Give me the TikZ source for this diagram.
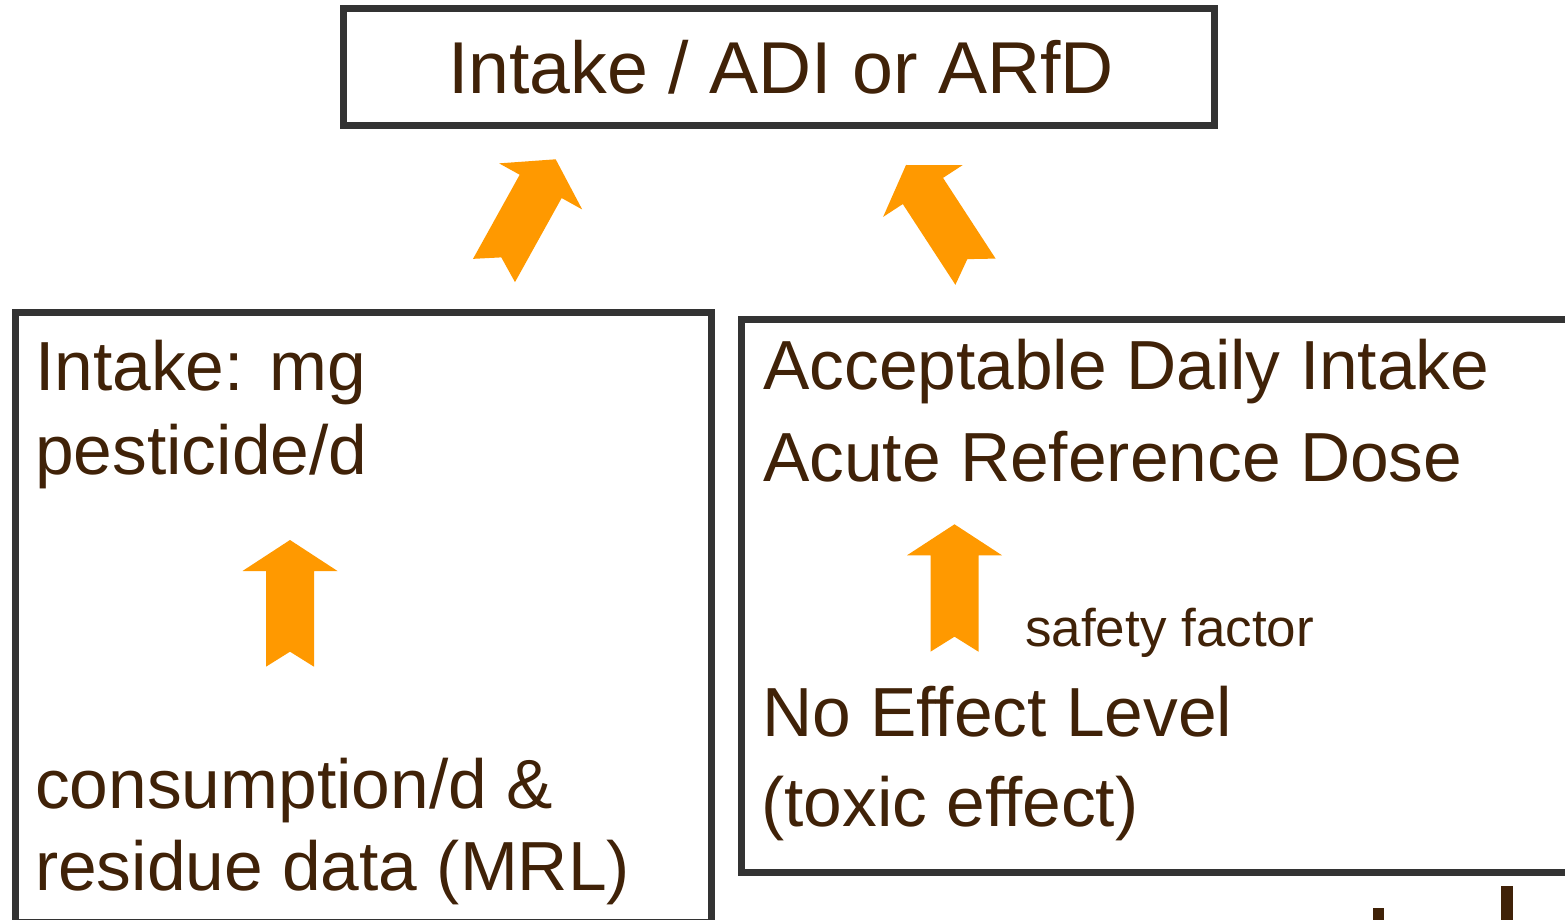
\documentclass[tikz,border=0pt]{standalone}
\usepackage{fontspec}
\setmainfont{Liberation Sans}
\usetikzlibrary{calc}
\usetikzlibrary{positioning}

\definecolor{txtbrown}{RGB}{64,34,8}
\definecolor{boxgray}{RGB}{51,51,51}
\definecolor{arroworange}{RGB}{255,153,0}

\tikzset{
  box/.style={draw=boxgray, line width=7pt, fill=none, inner sep=0pt},
  label/.style={text=txtbrown, anchor=base west, inner sep=0pt,
      font=\fontsize{69.5}{83}\selectfont},
  small label/.style={label, font=\fontsize{53}{64}\selectfont},
  orangearrow/.style={fill=arroworange, draw=none}
}

% block arrow with notched tail, from tail (#1) to tip (#2)
\newcommand{\blockarrow}[2]{%
  \coordinate (#2-h) at ($(#2)!31pt!(#1)$);
  \fill[orangearrow] (#2)
     -- ($(#2-h)!47.5pt!90:(#2)$) -- ($(#2-h)!24pt!90:(#2)$)
     -- ($(#1)!24pt!90:(#2)$) -- ($(#1)!15pt!(#2)$)
     -- ($(#1)!24pt!-90:(#2)$) -- ($(#2-h)!24pt!-90:(#2)$)
     -- ($(#2-h)!47.5pt!-90:(#2)$) -- cycle;}

\begin{document}
\begin{tikzpicture}[x=1pt,y=-1pt]
  \useasboundingbox (0,0) rectangle (1565,920);

  % boxes
  \node[box, minimum width=871pt, minimum height=117pt] (ratio) at (778.5,67.5) {};
  \node[text=txtbrown, font=\fontsize{73.5}{88}\selectfont, inner sep=0pt]
      (ratiotext) at (781,67) {Intake / ADI or ARfD};
  \node[box, minimum width=696pt, minimum height=610pt] (intakebox) at (363,617) {};
  \node[box, minimum width=829pt, minimum height=553pt] (adibox) at (1155.5,595.5) {};

  % left box texts
  \node[label] (intake1) at (35,390) {Intake: mg};
  \node[label] (intake2) at (35,474) {pesticide/d};
  \node[label] (cons1)   at (35,808) {consumption/d \&};
  \node[label] (cons2)   at (35,890) {residue data (MRL)};

  % right box texts
  \node[label] (adi)    at (763,389) {Acceptable Daily Intake};
  \node[label] (arfd)   at (763,481) {Acute Reference Dose};
  \node[small label] (safety) at (1025,646) {safety factor};
  \node[label] (noel)   at (762,736) {No Effect Level};
  \node[label] (toxic)  at (761,826) {(toxic effect)};

  % arrow ends
  \coordinate (la-tail) at (494,270.5);
  \coordinate (la-tip)  at (555.7,159.3);
  \coordinate (ra-tail) at (975.5,271.7);
  \coordinate (ra-tip)  at (906,165);
  \coordinate (lb-tail) at (290,666.7);
  \coordinate (lb-tip)  at (290,540);
  \coordinate (rb-tail) at (954.5,651.7);
  \coordinate (rb-tip)  at (954.5,524.3);

  \blockarrow{la-tail}{la-tip}
  \blockarrow{ra-tail}{ra-tip}
  \blockarrow{lb-tail}{lb-tip}
  \blockarrow{rb-tail}{rb-tip}

  % cut-off letters at the lower edge
  \fill[txtbrown] (1373,908) rectangle (1384,925);
  \fill[txtbrown] (1501,886) rectangle (1513,925);
\end{tikzpicture}
\end{document}
